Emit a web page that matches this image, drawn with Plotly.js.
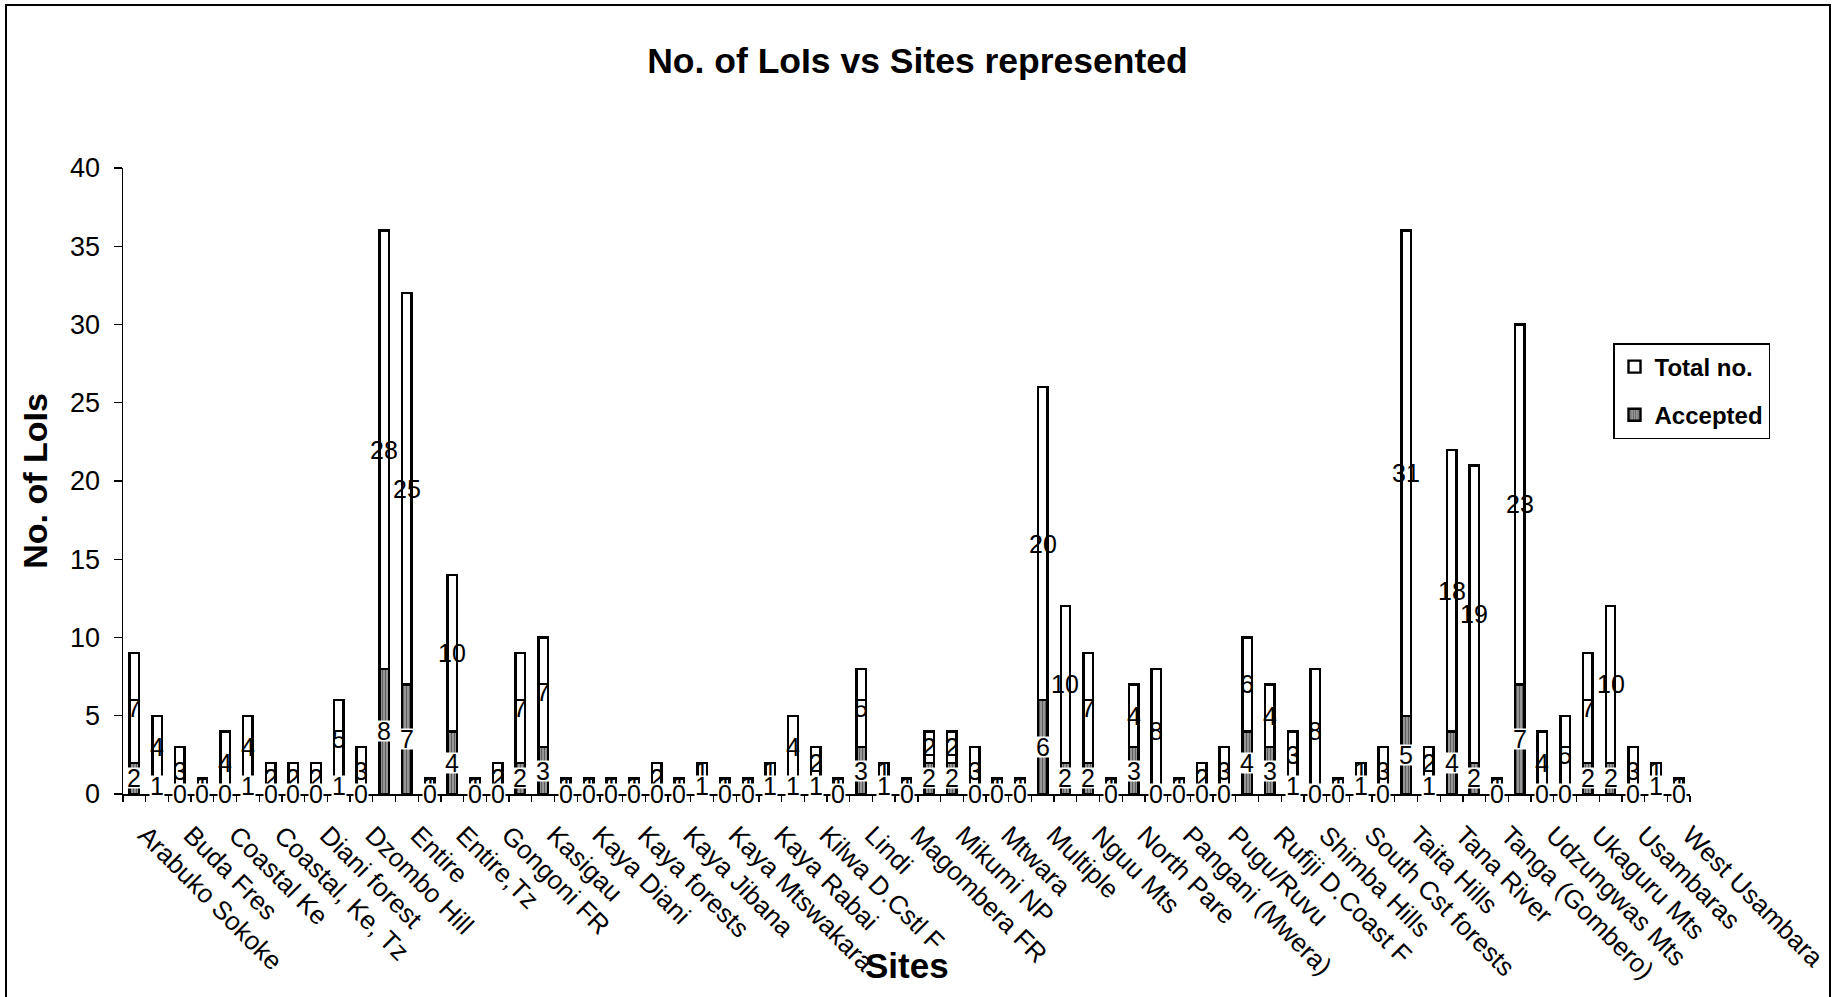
<!DOCTYPE html>
<html>
<head>
<meta charset="utf-8">
<script src="https://cdn.plot.ly/plotly-3.0.1.min.js"></script>
<style>
html,body{margin:0;padding:0;background:#fff;}
#chart{width:1835px;height:997px;}
</style>
</head>
<body>
<div id="chart"></div>
<script>
// Tick labels (shown under every other bar, as in the original)
const siteLabels = [
  "Arabuko Sokoke","Buda Fres","Coastal Ke","Coastal, Ke, Tz","Diani forest",
  "Dzombo Hill","Entire","Entire,Tz","Gongoni FR","Kasigau","Kaya Diani",
  "Kaya forests","Kaya Jibana","Kaya Mtswakara","Kaya Rabai","Kilwa D.Cstl F",
  "Lindi","Magombera FR","Mikumi NP","Mtwara","Multiple","Nguu Mts","North Pare",
  "Pangani (Mwera)","Pugu/Ruvu","Rufiji D.Coast F","Shimba Hills","South Cst forests",
  "Taita Hills","Tana River","Tanga (Gombero)","Udzungwas Mts","Ukaguru Mts",
  "Usambaras","West Usambara"
];

// Series values, one per bar (69 bars)
const accepted = [
  2,1,0,0,0,1,0,0,0,1,
  0,8,7,0,4,0,0,2,3,0,
  0,0,0,0,0,1,0,0,1,1,
  1,0,3,1,0,2,2,0,0,0,
  6,2,2,0,3,0,0,0,0,4,
  3,1,0,0,1,0,5,1,4,2,
  0,7,0,0,2,2,0,1,0
];
const totalNo = [
  7,4,3,1,4,4,2,2,2,5,
  3,28,25,1,10,1,2,7,7,1,
  1,1,1,2,1,1,1,1,1,4,
  2,1,5,1,1,2,2,3,1,1,
  20,10,7,1,4,8,1,2,3,6,
  4,3,8,1,1,3,31,2,18,19,
  1,23,4,5,7,10,3,1,1
];

const seriesNames = ["Accepted","Total no."];

const FONT = "'Liberation Sans', Arial, sans-serif";
const xIdx = accepted.map((_, i) => i);
const tickVals = siteLabels.map((_, i) => 2 * i + 0.5);

// plot geometry (pixels)
const W = 1835, H = 997;
const M = {l:123, r:145, t:168, b:203};
const pw = W - M.l - M.r, ph = H - M.t - M.b;
const px2x = p => (p - M.l) / pw;
const px2y = p => (H - M.b - p) / ph;

const traceAcc = {
  type: 'bar', name: seriesNames[0], x: xIdx, y: accepted,
  legendgroup: 'a', legendrank: 2,
  marker: {
    color: '#8c8c8c',
    line: {color: '#000', width: 2.4},
    pattern: {shape: '|', fgcolor: '#5e5e5e', bgcolor: '#9c9c9c', size: 3, solidity: 0.4}
  },
  hoverinfo: 'skip'
};
const traceTot = {
  type: 'bar', name: seriesNames[1], x: xIdx, y: totalNo,
  legendgroup: 'b', legendrank: 1,
  marker: {color: '#ffffff', line: {color: '#000', width: 2.4}},
  hoverinfo: 'skip'
};

const annotations = [];
// labels of the upper series (no fill)
xIdx.forEach(i => {
  annotations.push({
    x: i, y: accepted[i] + totalNo[i] / 2, xref: 'x', yref: 'y',
    text: String(totalNo[i]), showarrow: false,
    font: {family: FONT, size: 25, color: '#000'}
  });
});
// labels of the lower series (white box)
xIdx.forEach(i => {
  annotations.push({
    x: i, y: accepted[i] / 2, xref: 'x', yref: 'y',
    text: String(accepted[i]), showarrow: false,
    bgcolor: '#ffffff', borderpad: 0, height: 20,
    font: {family: FONT, size: 25, color: '#000'}
  });
});
// x axis title
annotations.push({
  text: 'Sites', xref: 'paper', yref: 'paper', x: 0.5, y: px2y(965),
  xanchor: 'center', yanchor: 'middle', showarrow: false,
  font: {family: FONT, size: 35, weight: 'bold', color: '#000'}
});

const layout = {
  width: W, height: H,
  margin: {l: M.l, r: M.r, t: M.t, b: M.b, autoexpand: false},
  paper_bgcolor: '#fff', plot_bgcolor: '#fff',
  barmode: 'stack', bargap: 0.58,
  font: {family: FONT, color: '#000'},
  title: {
    text: 'No. of LoIs vs Sites represented',
    font: {family: FONT, size: 35.5, weight: 'bold', color: '#000'},
    x: 0.5, xref: 'container', xanchor: 'center',
    y: 1 - 61 / H, yref: 'container', yanchor: 'middle'
  },
  xaxis: {
    range: [-0.5, accepted.length - 0.5],
    tickmode: 'array', tickvals: tickVals, ticktext: siteLabels,
    tickangle: 45, ticks: '', ticklabelstandoff: 14,
    tickfont: {family: FONT, size: 26, color: '#000'},
    showline: true, linecolor: '#000', linewidth: 1.5,
    showgrid: false, zeroline: false, fixedrange: true,
    minor: {tickmode: 'linear', tick0: 0.5, dtick: 1, ticks: 'outside', ticklen: 6, tickwidth: 1.3, tickcolor: '#000', showgrid: false}
  },
  yaxis: {
    range: [0, 40], dtick: 5, tick0: 0,
    ticks: 'outside', ticklen: 8, tickwidth: 1.3, tickcolor: '#000',
    ticklabelstandoff: 8,
    tickfont: {family: FONT, size: 27, color: '#000'},
    showline: true, linecolor: '#000', linewidth: 1.5,
    showgrid: false, zeroline: false, fixedrange: true,
    title: {text: 'No. of LoIs', font: {family: FONT, size: 34, weight: 'bold', color: '#000'}, standoff: 12}
  },
  legend: {
    x: px2x(1613), y: px2y(343), xanchor: 'left', yanchor: 'top',
    traceorder: 'grouped', tracegroupgap: 14,
    bgcolor: '#fff', bordercolor: '#000', borderwidth: 1.5,
    font: {family: FONT, size: 24, weight: 'bold', color: '#000'}
  },
  annotations: annotations,
  shapes: [{
    type: 'rect', xref: 'paper', yref: 'paper', layer: 'above',
    x0: px2x(6), x1: px2x(1830), y0: px2y(1100), y1: px2y(5),
    line: {color: '#000', width: 2}, fillcolor: 'rgba(0,0,0,0)'
  }]
};

Plotly.newPlot('chart', [traceAcc, traceTot], layout, {displayModeBar: false, staticPlot: true});
</script>
</body>
</html>
